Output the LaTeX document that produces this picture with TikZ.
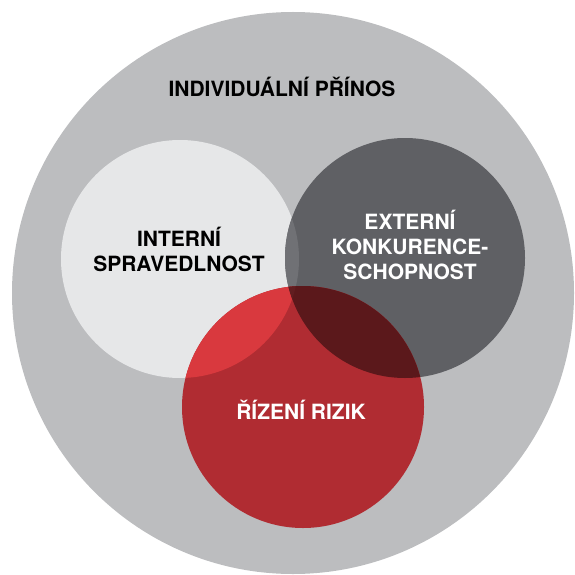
\documentclass[tikz,border=0pt]{standalone}
\usepackage{fontspec}
\setmainfont{TeX Gyre Heros}
\definecolor{RingGray}{HTML}{BCBDBF}
\definecolor{PaleGray}{HTML}{E6E7E8}
\definecolor{SlateGray}{HTML}{5F6064}
\definecolor{LensGray}{HTML}{707175}
\definecolor{RiskRed}{HTML}{B02C32}
\definecolor{RiskRedLight}{HTML}{D9393E}
\definecolor{RiskRedDark}{HTML}{5B181B}
\definecolor{RiskRedCore}{HTML}{621D20}
\usetikzlibrary{positioning}

\begin{document}
\begin{tikzpicture}[x=1pt, y=-1pt,
        disc/.style={circle, inner sep=0pt, minimum size=240pt},
        txt/.style={font=\bfseries\fontsize{21}{25}\selectfont, align=center, inner sep=0pt}]

        \useasboundingbox (0,0) rectangle (574,575);
        \clip (0,0) rectangle (574,575);

        % outer ring and the three circles
        \node[disc, fill=RingGray, minimum size=562pt] (prinos) at (293,293) {};
        \node[disc, fill=PaleGray, minimum size=238pt] (interni) at (180,259) {};
        \node[disc, fill=SlateGray] (externi) at (405,258) {};
        \begin{scope}
            \clip (interni.center) circle[radius=119pt];
            \fill[LensGray] (externi.center) circle[radius=120pt];
        \end{scope}
        \node[disc, fill=RiskRed, minimum size=242pt] (rizika) at (303,407) {};

        % overlaps with the red circle
        \begin{scope}
            \clip (rizika.center) circle[radius=121pt];
            \fill[RiskRedLight] (interni.center) circle[radius=119pt];
            \fill[RiskRedDark] (externi.center) circle[radius=120pt];
            \clip (interni.center) circle[radius=119pt];
            \fill[RiskRedCore] (externi.center) circle[radius=120pt];
        \end{scope}

        \node[txt, anchor=base] (t-prinos) at (282,97) {INDIVIDUÁLNÍ PŘÍNOS};
        \node[txt, text=black] (t-interni) at (179,249) {INTERNÍ\\SPRAVEDLNOST};
        \node[txt, text=white] (t-externi) at (410,245) {EXTERNÍ\\KONKURENCE-\\SCHOPNOST};
        \node[txt, text=white, anchor=base] (t-rizika) at (301,419) {ŘÍZENÍ RIZIK};
    \end{tikzpicture}
\end{document}
